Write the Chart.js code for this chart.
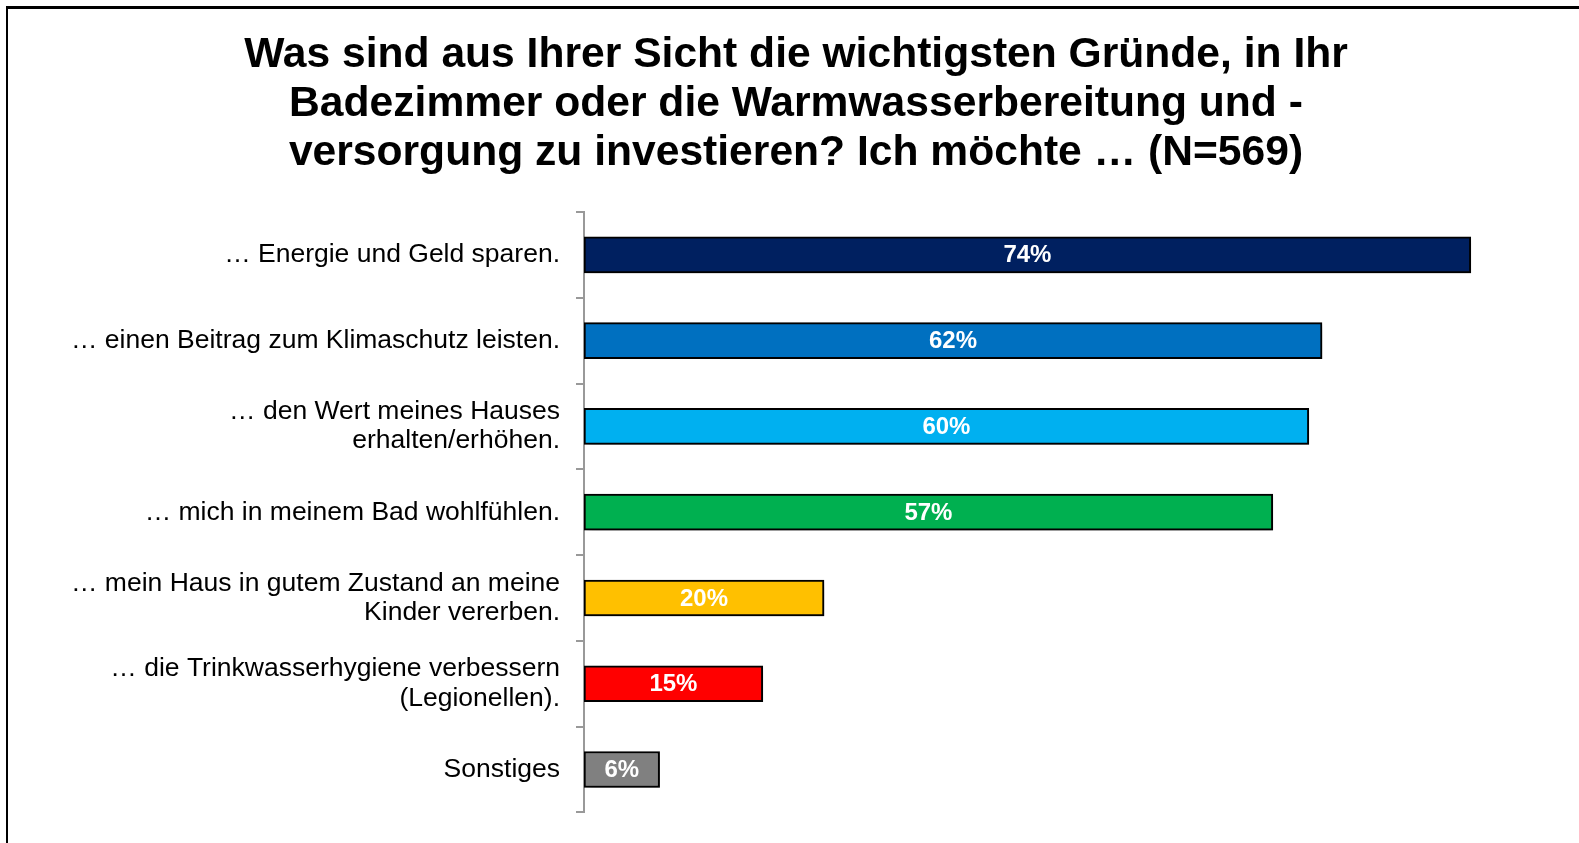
<!DOCTYPE html>
<html>
<head>
<meta charset="utf-8">
<script src="https://cdn.jsdelivr.net/npm/chart.js@4"></script>
<style>
  html, body { margin: 0; padding: 0; background: #fff; }
  #wrap { width: 1579px; height: 843px; position: relative; }
</style>
</head>
<body>
<div id="wrap"><canvas id="myChart"></canvas></div>
<script>
const labels = [
  '… Energie und Geld sparen.',
  '… einen Beitrag zum Klimaschutz leisten.',
  ['… den Wert meines Hauses', 'erhalten/erhöhen.'],
  '… mich in meinem Bad wohlfühlen.',
  ['… mein Haus in gutem Zustand an meine', 'Kinder vererben.'],
  ['… die Trinkwasserhygiene verbessern', '(Legionellen).'],
  'Sonstiges'
];
const values = [73.9, 61.5, 60.4, 57.4, 20.0, 14.9, 6.3];
const barColors = ['#002060', '#0070C0', '#00B0F0', '#00B050', '#FFC000', '#FF0000', '#808080'];
const titleLines = [
  'Was sind aus Ihrer Sicht die wichtigsten Gründe, in Ihr',
  'Badezimmer oder die Warmwasserbereitung und -',
  'versorgung zu investieren? Ich möchte … (N=569)'
];

const FONT = "'Liberation Sans', Arial, sans-serif";

// frame lines (top + left only)
const framePlugin = {
  id: 'frame',
  beforeDraw(chart) {
    const ctx = chart.ctx;
    ctx.save();
    ctx.fillStyle = '#000';
    ctx.fillRect(6, 6, chart.width - 6, 3);
    ctx.fillRect(6, 6, 2, chart.height - 6);
    ctx.restore();
  }
};

// soft shadow under the bars
const shadowPlugin = {
  id: 'barShadow',
  beforeDatasetsDraw(chart) {
    const ctx = chart.ctx;
    ctx.save();
    ctx.shadowColor = 'rgba(0,0,0,0.4)';
    ctx.shadowBlur = 7;
    ctx.shadowOffsetX = 3;
    ctx.shadowOffsetY = 4;
  },
  afterDatasetsDraw(chart) {
    chart.ctx.restore();
  }
};

// white percentage labels in the bar centre
const valueLabels = {
  id: 'valueLabels',
  afterDatasetsDraw(chart) {
    const ctx = chart.ctx;
    const meta = chart.getDatasetMeta(0);
    ctx.save();
    ctx.font = 'bold 24px ' + FONT;
    ctx.fillStyle = '#fff';
    ctx.textAlign = 'center';
    ctx.textBaseline = 'middle';
    meta.data.forEach((bar, i) => {
      const cx = (bar.x + bar.base) / 2;
      ctx.fillText(Math.round(values[i]) + '%', cx, bar.y + 1);
    });
    ctx.restore();
  }
};

const config = {
  type: 'bar',
  data: {
    labels: labels,
    datasets: [{
      data: values,
      backgroundColor: barColors,
      borderColor: '#000',
      borderWidth: 2,
      borderSkipped: false,
      barThickness: 36
    }]
  },
  options: {
    indexAxis: 'y',
    responsive: false,
    animation: false,
    layout: { padding: { left: 48, right: 35, top: 0, bottom: 30 } },
    plugins: {
      legend: { display: false },
      tooltip: { enabled: false },
      title: {
        display: true,
        text: titleLines,
        color: '#000',
        font: { family: FONT, size: 42.6, weight: 'bold', lineHeight: 1.15 },
        padding: { top: 31, bottom: 34 }
      }
    },
    scales: {
      x: { display: false, min: 0, max: 80 },
      y: {
        afterFit(scale) { scale.width = 536; },
        border: { display: true, color: '#999', width: 2 },
        grid: { drawOnChartArea: false, offset: true, tickLength: 8, color: '#999', lineWidth: 2 },
        ticks: { color: '#000', padding: 16, font: { family: FONT, size: 26.5, lineHeight: 1.1 } }
      }
    }
  },
  plugins: [framePlugin, shadowPlugin, valueLabels]
};

const canvas = document.getElementById('myChart');
canvas.width = 1579;
canvas.height = 843;
const myChart = new Chart(canvas, config);
</script>
</body>
</html>
